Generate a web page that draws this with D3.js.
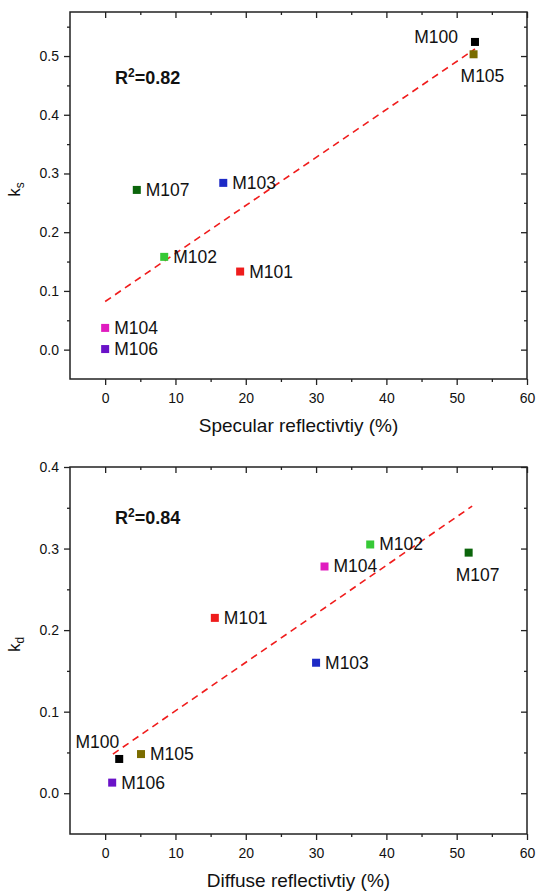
<!DOCTYPE html>
<html>
<head>
<meta charset="utf-8">
<script src="https://cdn.jsdelivr.net/npm/d3@7"></script>
<style>
  body { margin: 0; background: #fff; }
  text { font-family: Arial, "Liberation Sans", sans-serif; fill: #111; }
  .tick line { stroke: #222; stroke-width: 1.3; }
  .tick text { font-size: 14px; fill: #111; }
</style>
</head>
<body>
<svg id="chart" width="539" height="891"></svg>
<script>
// top panel: k_s vs specular reflectivity
var specNames = ["M100", "M105", "M103", "M107", "M102", "M101", "M104", "M106"];
var specX = [52.6, 52.4, 16.8, 4.5, 8.4, 19.2, 0, 0];
var specKs = [0.524, 0.503, 0.284, 0.272, 0.158, 0.133, 0.037, 0.001];
var specFitX = [0, 52.6];
var specFitY = [0.082, 0.512];

// bottom panel: k_d vs diffuse reflectivity
var diffNames = ["M102", "M107", "M104", "M101", "M103", "M100", "M105", "M106"];
var diffX = [37.7, 51.7, 31.2, 15.6, 30.0, 2.0, 5.1, 1.0];
var diffKd = [0.305, 0.295, 0.278, 0.215, 0.16, 0.042, 0.048, 0.013];
var diffFitX = [1.1, 52.2];
var diffFitY = [0.048, 0.352];

var xMajorTicks = [0, 10, 20, 30, 40, 50, 60];
var xMinorTicks = [5, 15, 25, 35, 45, 55];
var ksMajorTicks = [0, 0.1, 0.2, 0.3, 0.4, 0.5];
var ksMinorTicks = [0.05, 0.15, 0.25, 0.35, 0.45, 0.55];
var kdMajorTicks = [0, 0.1, 0.2, 0.3, 0.4];
var kdMinorTicks = [0.05, 0.15, 0.25, 0.35];

var sampleColors = {
  M100: "#000000", M101: "#ee1c1c", M102: "#36c936", M103: "#1d2ac6",
  M104: "#e01cbf", M105: "#7a6c00", M106: "#6a12c8", M107: "#0b650b"
};

var svg = d3.select("#chart");
var left = 70, right = 527, plotH = 367;

function drawPanel(opt) {
  var x = d3.scaleLinear().domain([-5, 60]).range([left, right]);
  var y = d3.scaleLinear().domain(opt.yDomain).range([opt.top + plotH, opt.top]);
  var bottom = opt.top + plotH;
  var g = svg.append("g");

  function axis(gen, scale, ticks, size, pad, fmt, tr) {
    var a = g.append("g")
      .attr("transform", tr)
      .call(gen(scale).tickValues(ticks).tickSize(size).tickPadding(pad).tickFormat(fmt));
    a.select(".domain").remove();
    return a;
  }
  var none = function () { return ""; };
  // bottom (outward), top (inward)
  axis(d3.axisBottom, x, xMajorTicks, 6, 8, d3.format("d"), "translate(0," + bottom + ")");
  axis(d3.axisBottom, x, xMinorTicks, 3, 0, none, "translate(0," + bottom + ")");
  axis(d3.axisTop, x, xMajorTicks, -6, 0, none, "translate(0," + opt.top + ")");
  axis(d3.axisTop, x, xMinorTicks, -3, 0, none, "translate(0," + opt.top + ")");
  // left (outward), right (inward)
  axis(d3.axisLeft, y, opt.yMajor, 6, 5, d3.format(".1f"), "translate(" + left + ",0)");
  axis(d3.axisLeft, y, opt.yMinor, 3, 0, none, "translate(" + left + ",0)");
  axis(d3.axisRight, y, opt.yMajor, -6, 0, none, "translate(" + right + ",0)");
  axis(d3.axisRight, y, opt.yMinor, -3, 0, none, "translate(" + right + ",0)");

  g.append("rect")
    .attr("x", left).attr("y", opt.top)
    .attr("width", right - left).attr("height", plotH)
    .attr("fill", "none").attr("stroke", "#222").attr("stroke-width", 1.5);

  // fit line
  g.append("path")
    .datum(d3.zip(opt.fitX, opt.fitY))
    .attr("d", d3.line().x(function (d) { return x(d[0]); }).y(function (d) { return y(d[1]); }))
    .attr("fill", "none").attr("stroke", "#f01c1c")
    .attr("stroke-width", 1.6).attr("stroke-dasharray", "7,5");

  var pts = opt.names.map(function (n, i) { return { name: n, x: opt.xs[i], y: opt.ys[i] }; });

  g.selectAll(".pt").data(pts).enter().append("rect")
    .attr("class", "pt")
    .attr("x", function (d) { return x(d.x) - 4; })
    .attr("y", function (d) { return y(d.y) - 4; })
    .attr("width", 8).attr("height", 8)
    .attr("fill", function (d) { return sampleColors[d.name]; });

  g.selectAll(".lbl").data(pts).enter().append("text")
    .attr("class", "lbl")
    .style("font-size", "17.5px")
    .attr("text-anchor", function (d) { return opt.place[d.name] === "leftup" ? "end" : "start"; })
    .attr("x", function (d) {
      var p = opt.place[d.name];
      if (p === "leftup") return x(d.x) - opt.leftDx;
      if (p === "below") return x(d.x) - 13;
      return x(d.x) + 9;
    })
    .attr("y", function (d) {
      var p = opt.place[d.name];
      if (p === "leftup") return y(d.y) + opt.leftDy;
      if (p === "below") return y(d.y) + 28;
      return y(d.y) + 6;
    })
    .text(function (d) { return d.name; });

  // R^2 annotation
  var r = g.append("text")
    .attr("x", x(1.4)).attr("y", y(opt.r2y))
    .style("font-size", "18px").style("font-weight", "bold");
  r.append("tspan").text("R");
  r.append("tspan").attr("dy", -7).style("font-size", "12px").text("2");
  r.append("tspan").attr("dy", 7).text("=" + opt.r2);

  // axis titles
  g.append("text")
    .attr("x", (left + right) / 2).attr("y", bottom + 53)
    .attr("text-anchor", "middle").style("font-size", "19px")
    .text(opt.xTitle);

  var yt = g.append("text")
    .attr("transform", "translate(20," + (opt.top + plotH / 2 - 6) + ") rotate(-90)")
    .attr("text-anchor", "middle").style("font-size", "17px");
  yt.append("tspan").text("k");
  yt.append("tspan").attr("dy", 4).style("font-size", "12px").text(opt.ySub);
}

drawPanel({
  top: 12, yDomain: [-0.05, 0.575], yMajor: ksMajorTicks, yMinor: ksMinorTicks,
  names: specNames, xs: specX, ys: specKs, fitX: specFitX, fitY: specFitY,
  r2: "0.82", r2y: 0.452, xTitle: "Specular reflectivtiy (%)", ySub: "s",
  leftDx: 17, leftDy: 1,
  place: { M100: "leftup", M105: "below", M103: "right", M107: "right", M102: "right",
           M101: "right", M104: "right", M106: "right" }
});

drawPanel({
  top: 467, yDomain: [-0.05, 0.4], yMajor: kdMajorTicks, yMinor: kdMinorTicks,
  names: diffNames, xs: diffX, ys: diffKd, fitX: diffFitX, fitY: diffFitY,
  r2: "0.84", r2y: 0.33, xTitle: "Diffuse reflectivtiy (%)", ySub: "d",
  leftDx: 0, leftDy: -11,
  place: { M100: "leftup", M107: "below", M102: "right", M104: "right", M101: "right",
           M103: "right", M105: "right", M106: "right" }
});
</script>
</body>
</html>
